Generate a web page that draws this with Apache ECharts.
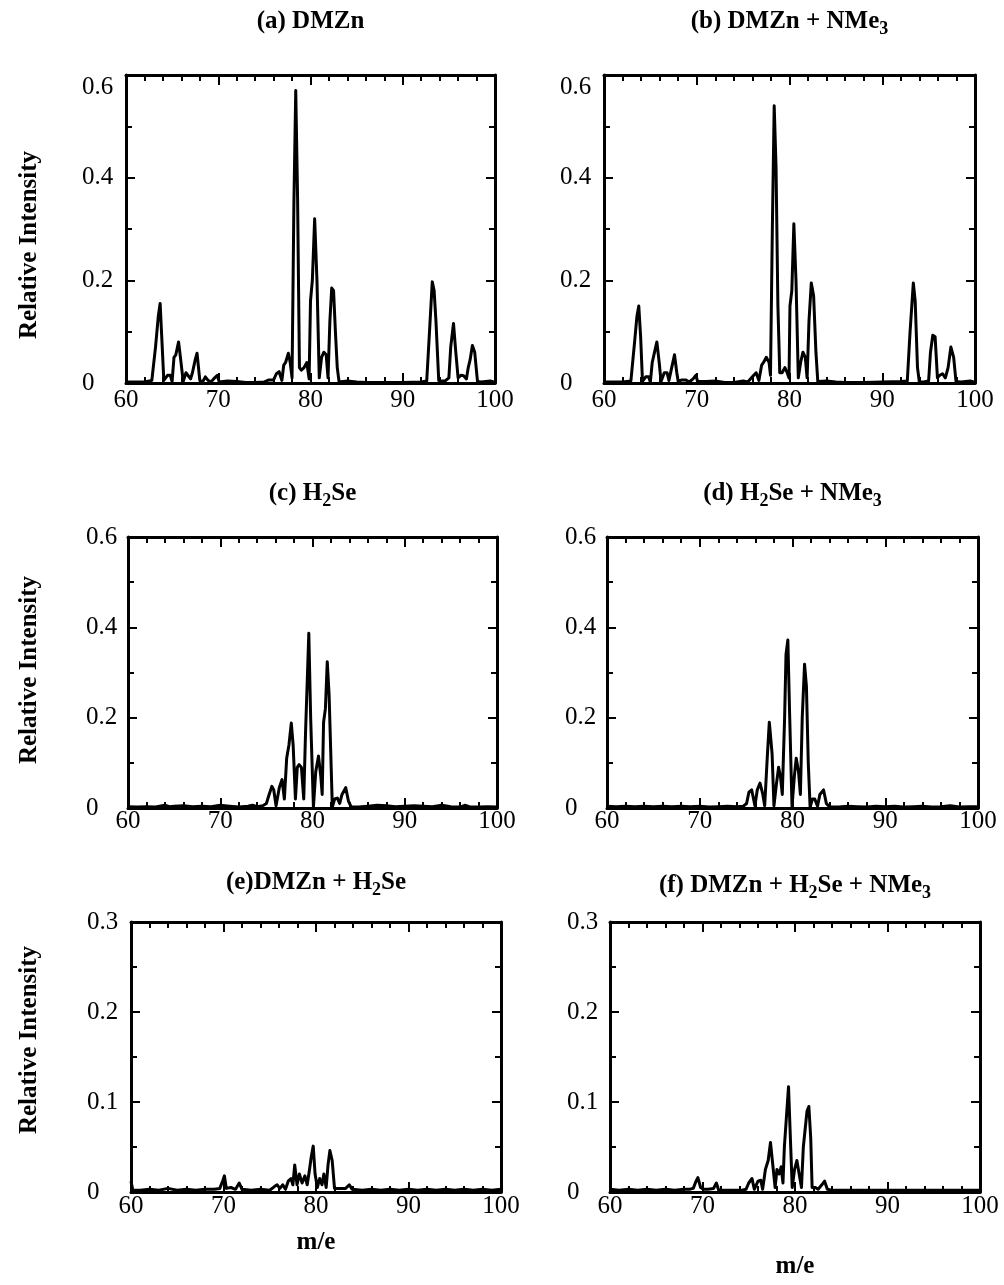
<!DOCTYPE html>
<html>
<head>
<meta charset="utf-8">
<script src="https://cdn.jsdelivr.net/npm/echarts@6/dist/echarts.min.js"></script>
<style>
html,body{margin:0;padding:0;background:#fff;}
#chart{width:1004px;height:1285px;}
</style>
</head>
<body>
<div id="chart"></div>
<script>
// ---- Data (m/e vs relative intensity) ----
const xTicks = [60, 70, 80, 90, 100];

const mzA = [60, 62, 62.8, 63.2, 63.5, 63.7, 63.9, 64.1, 64.5, 64.8,
  65.0, 65.2, 65.4, 65.7, 65.9, 66.2, 66.5, 66.7, 67.0, 67.2,
  67.5, 67.7, 68.0, 68.3, 68.6, 68.9, 69.2, 69.5, 69.9, 70.1,
  71, 72, 73, 74, 75, 75.5, 76, 76.3, 76.6, 76.9,
  77.1, 77.3, 77.6, 77.8, 78.0, 78.2, 78.4, 78.6, 78.8, 79.0,
  79.3, 79.6, 79.85, 80.0, 80.2, 80.45, 80.7, 80.95, 81.2, 81.45,
  81.7, 81.9, 82.1, 82.3, 82.5, 82.7, 82.9, 83.1, 84, 85,
  86, 88, 90, 92, 92.6, 92.9, 93.2, 93.4, 93.6, 93.9,
  94.2, 94.6, 95.0, 95.2, 95.5, 95.75, 96.0, 96.3, 96.6, 96.9,
  97.1, 97.3, 97.55, 97.8, 98.1, 98.5, 99, 99.5, 100];
const intA = [0.002, 0.002, 0.005, 0.07, 0.13, 0.155, 0.08, 0.005, 0.015, 0.015,
  0.003, 0.05, 0.055, 0.08, 0.05, 0.003, 0.02, 0.022, 0.008, 0.02,
  0.045, 0.058, 0.005, 0.002, 0.012, 0.005, 0.002, 0.008, 0.015, 0.002,
  0.004, 0.003, 0.001, 0.001, 0.002, 0.006, 0.006, 0.018, 0.022, 0.005,
  0.035, 0.04, 0.058, 0.04, 0.01, 0.35, 0.57, 0.36, 0.03, 0.025,
  0.03, 0.04, 0.008, 0.16, 0.2, 0.32, 0.2, 0.01, 0.05, 0.06,
  0.055, 0.01, 0.12, 0.185, 0.18, 0.1, 0.03, 0.002, 0.004, 0.002,
  0.001, 0.001, 0.001, 0.002, 0.004, 0.1, 0.197, 0.18, 0.12, 0.005,
  0.004, 0.004, 0.01, 0.07, 0.116, 0.06, 0.01, 0.015, 0.014, 0.008,
  0.03, 0.045, 0.073, 0.06, 0.003, 0.002, 0.003, 0.004, 0.001];

const mzB = [60, 62, 62.9, 63.3, 63.55, 63.75, 63.95, 64.15, 64.5, 64.8,
  65.0, 65.2, 65.45, 65.7, 65.95, 66.15, 66.5, 66.8, 67.0, 67.3,
  67.6, 67.85, 68.0, 68.4, 68.8, 69.2, 69.6, 69.9, 70.1, 71,
  72, 73, 74, 75, 75.5, 76, 76.4, 76.7, 77.0, 77.2,
  77.5, 77.8, 77.95, 78.15, 78.35, 78.55, 78.75, 78.95, 79.2, 79.5,
  79.75, 79.95, 80.05, 80.25, 80.47, 80.7, 80.95, 81.2, 81.45, 81.7,
  81.9, 82.1, 82.35, 82.6, 82.85, 83.05, 84, 85, 86, 88,
  90, 92, 92.7, 93.0, 93.35, 93.55, 93.8, 94.0, 94.5, 95.0,
  95.2, 95.45, 95.7, 95.95, 96.2, 96.5, 96.8, 97.1, 97.4, 97.7,
  97.95, 98.5, 99, 99.5, 100];
const intB = [0.002, 0.002, 0.004, 0.08, 0.13, 0.15, 0.09, 0.003, 0.012, 0.012,
  0.002, 0.04, 0.06, 0.08, 0.04, 0.003, 0.02, 0.02, 0.005, 0.03,
  0.055, 0.02, 0.003, 0.006, 0.006, 0.002, 0.008, 0.015, 0.003, 0.003,
  0.004, 0.001, 0.001, 0.004, 0.002, 0.012, 0.02, 0.005, 0.035, 0.04,
  0.05, 0.04, 0.015, 0.3, 0.54, 0.42, 0.15, 0.02, 0.02, 0.03,
  0.02, 0.01, 0.15, 0.18, 0.31, 0.2, 0.01, 0.04, 0.06, 0.05,
  0.01, 0.12, 0.195, 0.17, 0.06, 0.003, 0.004, 0.002, 0.001, 0.001,
  0.002, 0.003, 0.004, 0.1, 0.195, 0.16, 0.03, 0.002, 0.002, 0.004,
  0.06, 0.093, 0.09, 0.01, 0.015, 0.018, 0.01, 0.03, 0.07, 0.05,
  0.003, 0.002, 0.003, 0.004, 0.001];

const mzC = [60, 61, 62, 63, 64, 64.5, 65, 66, 67, 68,
  69, 70, 71, 72, 73, 73.5, 74, 74.6, 75.0, 75.3,
  75.6, 75.8, 76.05, 76.4, 76.7, 76.95, 77.2, 77.45, 77.7, 77.9,
  78.15, 78.35, 78.55, 78.8, 79.05, 79.25, 79.6, 79.8, 80.1, 80.35,
  80.65, 80.9, 81.05, 81.2, 81.4, 81.6, 81.8, 82.15, 82.4, 82.7,
  82.95, 83.2, 83.6, 83.9, 84.2, 85, 86, 87, 88, 89,
  90, 91, 92, 93, 94, 95, 96, 96.5, 97, 98,
  99, 100];
const intC = [0.003, 0.002, 0.003, 0.002, 0.006, 0.003, 0.004, 0.005, 0.003, 0.004,
  0.003, 0.006, 0.004, 0.002, 0.004, 0.006, 0.003, 0.005, 0.01, 0.03,
  0.048, 0.04, 0.005, 0.045, 0.063, 0.02, 0.11, 0.14, 0.188, 0.14,
  0.02, 0.09, 0.096, 0.09, 0.02, 0.17, 0.387, 0.2, 0.002, 0.08,
  0.115, 0.07, 0.03, 0.19, 0.22, 0.324, 0.25, 0.002, 0.02, 0.022,
  0.01, 0.03, 0.045, 0.015, 0.002, 0.002, 0.004, 0.006, 0.005, 0.003,
  0.004, 0.005, 0.004, 0.003, 0.006, 0.003, 0.002, 0.006, 0.003, 0.002,
  0.003, 0.002];

const mzD = [60, 61, 62, 63, 64, 65, 66, 67, 68, 69,
  70, 71, 72, 73, 74, 74.7, 75.05, 75.3, 75.6, 75.95,
  76.2, 76.5, 76.8, 77.0, 77.3, 77.5, 77.8, 78.0, 78.25, 78.5,
  78.7, 78.9, 79.15, 79.3, 79.5, 79.7, 79.95, 80.2, 80.4, 80.65,
  80.85, 81.05, 81.3, 81.5, 81.7, 81.9, 82.15, 82.4, 82.7, 82.95,
  83.35, 83.65, 84.0, 85, 86, 87, 88, 89, 90, 91,
  92, 93, 94, 95, 96, 97, 98, 99, 100];
const intD = [0.004, 0.003, 0.004, 0.003, 0.004, 0.003, 0.004, 0.003, 0.004, 0.003,
  0.004, 0.002, 0.003, 0.004, 0.003, 0.004, 0.01, 0.035, 0.04, 0.005,
  0.04, 0.055, 0.03, 0.005, 0.12, 0.19, 0.12, 0.005, 0.05, 0.09,
  0.07, 0.03, 0.2, 0.34, 0.372, 0.2, 0.003, 0.07, 0.11, 0.08,
  0.03, 0.2, 0.318, 0.27, 0.1, 0.002, 0.02, 0.02, 0.004, 0.03,
  0.04, 0.01, 0.002, 0.002, 0.004, 0.003, 0.002, 0.004, 0.003, 0.004,
  0.002, 0.003, 0.004, 0.002, 0.003, 0.005, 0.002, 0.003, 0.003];

const mzE = [60, 60.2, 61, 62, 63, 64, 65, 66, 67, 68,
  69, 69.6, 69.9, 70.1, 70.3, 70.8, 71.3, 71.7, 72.0, 73,
  74, 75, 75.5, 75.8, 76.1, 76.4, 76.7, 77.0, 77.3, 77.5,
  77.7, 77.95, 78.2, 78.5, 78.8, 79.05, 79.3, 79.5, 79.7, 79.9,
  80.15, 80.4, 80.65, 80.85, 81.1, 81.3, 81.5, 81.75, 82.0, 82.5,
  83.2, 83.6, 83.9, 85, 86, 87, 88, 89, 90, 91,
  92, 93, 94, 95, 96, 97, 98, 99, 100];
const intE = [0.012, 0.002, 0.002, 0.003, 0.002, 0.004, 0.002, 0.003, 0.002, 0.003,
  0.003, 0.004, 0.012, 0.018, 0.004, 0.005, 0.003, 0.01, 0.003, 0.002,
  0.003, 0.002, 0.006, 0.008, 0.004, 0.008, 0.003, 0.012, 0.015, 0.008,
  0.03, 0.008, 0.02, 0.01, 0.018, 0.008, 0.025, 0.04, 0.051, 0.02,
  0.005, 0.015, 0.008, 0.02, 0.005, 0.03, 0.046, 0.035, 0.004, 0.004,
  0.004, 0.008, 0.003, 0.002, 0.003, 0.002, 0.003, 0.002, 0.003, 0.002,
  0.003, 0.002, 0.003, 0.002, 0.003, 0.002, 0.003, 0.002, 0.003];

const mzF = [60, 61, 62, 63, 64, 65, 66, 67, 68, 68.6,
  69.0, 69.3, 69.5, 69.8, 70.1, 70.6, 71.2, 71.5, 71.75, 72.5,
  73.5, 74.3, 74.7, 75.0, 75.35, 75.6, 76.0, 76.3, 76.5, 76.8,
  77.1, 77.35, 77.6, 77.85, 78.05, 78.3, 78.5, 78.7, 78.85, 79.05,
  79.3, 79.5, 79.7, 79.95, 80.2, 80.45, 80.7, 80.9, 81.1, 81.3,
  81.5, 81.7, 81.85, 82.2, 82.5, 82.9, 83.2, 83.5, 84, 85,
  86, 88, 90, 92, 94, 96, 98, 100];
const intF = [0.003, 0.002, 0.003, 0.002, 0.003, 0.002, 0.003, 0.002, 0.003, 0.003,
  0.004, 0.012, 0.016, 0.005, 0.003, 0.003, 0.004, 0.01, 0.002, 0.002,
  0.002, 0.002, 0.003, 0.01, 0.015, 0.003, 0.012, 0.013, 0.003, 0.025,
  0.035, 0.055, 0.03, 0.005, 0.025, 0.02, 0.028, 0.01, 0.05, 0.08,
  0.117, 0.06, 0.005, 0.025, 0.035, 0.02, 0.005, 0.05, 0.05, 0.09,
  0.095, 0.06, 0.005, 0.005, 0.003, 0.008, 0.012, 0.003, 0.002, 0.002,
  0.002, 0.002, 0.002, 0.002, 0.002, 0.002, 0.002, 0.002];

const titles = [
  '{b|(a) DMZn}',
  '{b|(b) DMZn + NMe}{s|3}',
  '{b|(c) H}{s|2}{b|Se}',
  '{b|(d) H}{s|2}{b|Se + NMe}{s|3}',
  '{b|(e)DMZn + H}{s|2}{b|Se}',
  '{b|(f) DMZn + H}{s|2}{b|Se + NMe}{s|3}'
];
const yLabel = 'Relative Intensity';
const xLabel = 'm/e';

// ---- Layout ----
const FONT = '"Liberation Serif", "Times New Roman", serif';
const panels = [
  {grid: {left: 126, top: 75, width: 369, height: 308}, ymax: 0.6, yint: 0.2, mz: mzA, it: intA, tGap: 39, lm: 44, xm: 5, topLbl: true},
  {grid: {left: 604, top: 75, width: 371, height: 308}, ymax: 0.6, yint: 0.2, mz: mzB, it: intB, tGap: 39, lm: 44, xm: 5, topLbl: true},
  {grid: {left: 128, top: 537, width: 369, height: 271}, ymax: 0.6, yint: 0.2, mz: mzC, it: intC, tGap: 29, lm: 42, xm: 1},
  {grid: {left: 607, top: 537, width: 371, height: 271}, ymax: 0.6, yint: 0.2, mz: mzD, it: intD, tGap: 29, lm: 42, xm: 1},
  {grid: {left: 131, top: 922, width: 370, height: 270}, ymax: 0.3, yint: 0.1, mz: mzE, it: intE, tGap: 25, lm: 44, xm: 2, xName: 38},
  {grid: {left: 610, top: 922, width: 370, height: 270}, ymax: 0.3, yint: 0.1, mz: mzF, it: intF, tGap: 22, lm: 43, xm: 2, xName: 62}
];

const lineBlack = {color: '#000', width: 3};
const tickStyle = {color: '#000', width: 2};
const rich = {
  b: {fontFamily: FONT, fontWeight: 'bold', fontSize: 25, lineHeight: 28, color: '#000'},
  s: {fontFamily: FONT, fontWeight: 'bold', fontSize: 18, lineHeight: 17, padding: [14, 0, 0, 0], color: '#000'}
};

const grids = [], xAxes = [], yAxes = [], series = [];
panels.forEach((p, i) => {
  grids.push(Object.assign({outerBoundsMode: 'none', containLabel: false}, p.grid));
  const xBase = {
    type: 'value', gridIndex: i, min: xTicks[0], max: xTicks[xTicks.length - 1], interval: 10,
    axisLine: {show: true, onZero: false, lineStyle: lineBlack},
    axisTick: {show: true, inside: true, length: 10, lineStyle: tickStyle},
    minorTick: {show: true, splitNumber: 5, length: 6, lineStyle: tickStyle},
    splitLine: {show: false}
  };
  xAxes.push(Object.assign({}, xBase, {
    position: 'bottom',
    axisLabel: {show: true, margin: p.xm, fontFamily: FONT, fontSize: 25, color: '#000', hideOverlap: false, showMinLabel: true, showMaxLabel: true},
    name: p.xName ? xLabel : '',
    nameLocation: 'middle', nameGap: p.xName || 0,
    nameTextStyle: {fontFamily: FONT, fontWeight: 'bold', fontSize: 25, color: '#000'}
  }));
  xAxes.push(Object.assign({}, xBase, {
    position: 'top',
    axisLabel: {show: false},
    name: titles[i], nameLocation: 'middle', nameGap: p.tGap,
    nameTextStyle: {rich: rich, fontFamily: FONT, fontSize: 25, color: '#000'}
  }));
  const yBase = {
    type: 'value', gridIndex: i, min: 0, max: p.ymax, interval: p.yint,
    axisLine: {show: true, onZero: false, lineStyle: lineBlack},
    axisTick: {show: true, inside: true, length: 9, lineStyle: tickStyle},
    minorTick: {show: true, splitNumber: 2, length: 6, lineStyle: tickStyle},
    splitLine: {show: false}
  };
  const lbl = {show: true, align: 'left', margin: p.lm, fontFamily: FONT, fontSize: 25, color: '#000',
    padding: p.topLbl ? [0, 0, 8, 0] : [0, 0, 12, 0], showMinLabel: true, showMaxLabel: true};
  if (p.topLbl) lbl.verticalAlignMaxLabel = 'top';
  yAxes.push(Object.assign({}, yBase, {position: 'left', axisLabel: lbl}));
  yAxes.push(Object.assign({}, yBase, {position: 'right', axisLabel: {show: false}}));
  series.push({
    type: 'line', xAxisIndex: 2 * i, yAxisIndex: 2 * i,
    data: p.mz.map((m, k) => [m, p.it[k]]),
    showSymbol: false, symbol: 'none',
    lineStyle: {color: '#000', width: 3, join: 'round'},
    animation: false, silent: true
  });
});

const graphics = [[30, 245], [30, 670], [30, 1040]].map(([x, y]) => ({
  type: 'text', x: x, y: y, rotation: Math.PI / 2,
  style: {text: yLabel, font: 'bold 25px ' + FONT, fill: '#000', align: 'center', verticalAlign: 'middle', textAlign: 'center', textVerticalAlign: 'middle'}
}));

const chart = echarts.init(document.getElementById('chart'), null, {renderer: 'canvas'});
chart.setOption({
  backgroundColor: '#fff',
  animation: false,
  grid: grids,
  xAxis: xAxes,
  yAxis: yAxes,
  series: series,
  graphic: graphics
});
</script>
</body>
</html>
